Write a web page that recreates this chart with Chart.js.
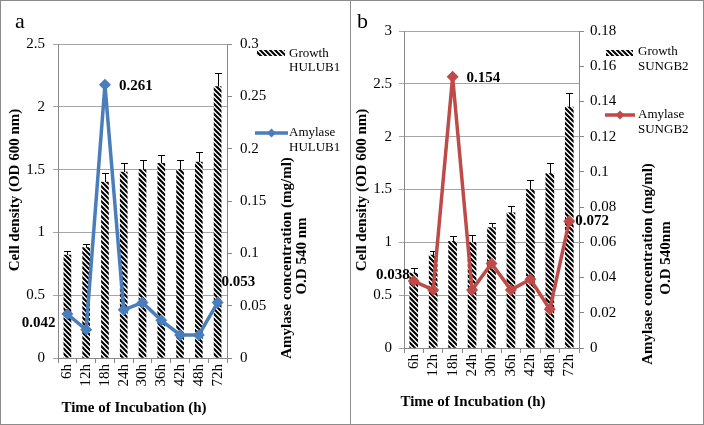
<!DOCTYPE html>
<html><head><meta charset="utf-8">
<script src="https://cdn.jsdelivr.net/npm/chart.js@4"></script>
<style>
html,body{margin:0;padding:0;background:#fff;}
#wrap{position:relative;width:704px;height:425px;overflow:hidden;background:#fff;}
.frame{position:absolute;top:0;height:425px;border:1px solid #8c8c8c;box-sizing:border-box;}
canvas{position:absolute;top:0;}
</style></head><body>
<div id="wrap">
  <div class="frame" style="left:0;width:351px"></div>
  <div class="frame" style="left:350px;width:354px"></div>
  <canvas id="ca" width="350" height="425" style="left:0"></canvas>
  <canvas id="cb" width="352" height="425" style="left:352px"></canvas>
</div>
<script>
// ---------- data ----------
const categories = ['6h','12h','18h','24h','30h','36h','42h','48h','72h'];

const growthA    = [0.82, 0.88, 1.40, 1.48, 1.50, 1.55, 1.50, 1.56, 2.16];
const growthErrA = [0.03, 0.03, 0.07, 0.07, 0.08, 0.07, 0.08, 0.08, 0.11];
const amylaseA   = [0.042, 0.027, 0.261, 0.046, 0.053, 0.036, 0.022, 0.022, 0.053];

const growthB    = [0.71, 0.88, 1.01, 1.00, 1.14, 1.28, 1.50, 1.65, 2.28];
const growthErrB = [0.05, 0.04, 0.05, 0.07, 0.04, 0.06, 0.09, 0.10, 0.13];
const amylaseB   = [0.038, 0.033, 0.154, 0.033, 0.048, 0.033, 0.039, 0.022, 0.072];

const leftTicksA  = [0, 0.5, 1, 1.5, 2, 2.5];
const rightTicksA = [0, 0.05, 0.1, 0.15, 0.2, 0.25, 0.3];
const leftTicksB  = [0, 0.5, 1, 1.5, 2, 2.5, 3];
const rightTicksB = [0, 0.02, 0.04, 0.06, 0.08, 0.1, 0.12, 0.14, 0.16, 0.18];

const labelledA = [2, 0, 8];
const labelledB = [2, 0, 8];

// ---------- helpers ----------
const SERIF = '"Liberation Serif", "Times New Roman", serif';
Chart.defaults.font.family = SERIF;
Chart.defaults.color = '#000';
function fmt(v){ return String(parseFloat(Number(v).toFixed(4))); }

function makeHatch(ctx){
  const n = 5;
  const c = document.createElement('canvas');
  c.width = n; c.height = n;
  const x = c.getContext('2d');
  x.fillStyle = '#fff'; x.fillRect(0,0,n,n);
  x.strokeStyle = '#000'; x.lineWidth = 2.1; x.lineCap = 'square';
  x.beginPath();
  x.moveTo(-1,-1); x.lineTo(n+1,n+1);
  x.moveTo(-1,n-1); x.lineTo(1,n+1);
  x.moveTo(n-1,-1); x.lineTo(n+1,1);
  x.stroke();
  return ctx.createPattern(c,'repeat');
}

function diamond(ctx, x, y, r, color){
  ctx.fillStyle = color;
  ctx.beginPath();
  ctx.moveTo(x, y-r); ctx.lineTo(x+r, y); ctx.lineTo(x, y+r); ctx.lineTo(x-r, y);
  ctx.closePath(); ctx.fill();
}

function makeChart(canvasId, cfg){
  const canvas = document.getElementById(canvasId);
  const ctx = canvas.getContext('2d');
  const hatch = makeHatch(ctx);

  const decor = {
    id: 'decor' + canvasId,
    afterDatasetDraw(chart, args){
      if (args.index !== 1) return;
      const meta = chart.getDatasetMeta(1);
      const ys = chart.scales.y;
      const c = chart.ctx;
      c.save();
      c.strokeStyle = '#000'; c.lineWidth = 1;
      meta.data.forEach((bar, i) => {
        const v = cfg.growth[i], e = cfg.err[i];
        const x = Math.round(bar.x) + 0.5;
        const y0 = ys.getPixelForValue(v), y1 = Math.round(ys.getPixelForValue(v + e)) + 0.5;
        c.beginPath();
        c.moveTo(x, y0); c.lineTo(x, y1);
        c.moveTo(x - 3.5, y1); c.lineTo(x + 3.5, y1);
        c.stroke();
      });
      c.restore();
    },
    afterDraw(chart){
      const c = chart.ctx;
      c.save();
      c.fillStyle = '#000';
      c.font = '22px ' + SERIF;
      c.textAlign = 'left'; c.textBaseline = 'alphabetic';
      c.fillText(cfg.letter, cfg.letterPos[0], cfg.letterPos[1]);
      c.font = 'bold 15px ' + SERIF;
      c.textAlign = 'center'; c.textBaseline = 'middle';
      c.fillText(cfg.xTitle, cfg.xTitlePos[0], cfg.xTitlePos[1]);
      c.save(); c.translate(cfg.yTitlePos[0], cfg.yTitlePos[1]); c.rotate(-Math.PI/2);
      c.fillText(cfg.yTitle, 0, 0); c.restore();
      cfg.y1Title.forEach((t, k) => {
        c.save(); c.translate(cfg.y1TitlePos[k][0], cfg.y1TitlePos[k][1]); c.rotate(-Math.PI/2);
        c.fillText(t, 0, 0); c.restore();
      });
      const L = cfg.legend;
      c.fillStyle = hatch;
      c.fillRect(L.swatch[0], L.swatch[1], L.swatch[2], L.swatch[3]);
      c.strokeStyle = cfg.color; c.lineWidth = 3.5;
      c.beginPath(); c.moveTo(L.line[0], L.line[2]); c.lineTo(L.line[1], L.line[2]); c.stroke();
      diamond(c, (L.line[0]+L.line[1])/2, L.line[2], 4.5, cfg.color);
      c.fillStyle = '#000';
      c.font = '13px ' + SERIF;
      c.textAlign = 'left'; c.textBaseline = 'middle';
      L.texts.forEach(t => c.fillText(t[0], t[1], t[2]));
      const meta = chart.getDatasetMeta(0);
      c.font = 'bold 15px ' + SERIF;
      cfg.labelled.forEach((i, k) => {
        const p = meta.data[i];
        const o = cfg.labelOffsets[k];
        c.textAlign = o[2];
        c.fillText(cfg.amylase[i].toFixed(3), p.x + o[0], p.y + o[1]);
      });
      c.restore();
    }
  };

  const tickFont = { family: SERIF, size: 15 };
  return new Chart(ctx, {
    type: 'bar',
    data: {
      labels: categories,
      datasets: [
        { type: 'line', label: cfg.lineLabel, data: cfg.amylase, yAxisID: 'y1',
          borderColor: cfg.color, backgroundColor: cfg.color, borderWidth: 3.5,
          pointStyle: 'rectRot', pointRadius: 6, pointBackgroundColor: cfg.color,
          pointBorderWidth: 0, tension: 0, order: 0 },
        { type: 'bar', label: cfg.barLabel, data: cfg.growth, yAxisID: 'y',
          backgroundColor: hatch, borderWidth: 0, barThickness: cfg.barW, order: 1 }
      ]
    },
    options: {
      responsive: false, animation: false, devicePixelRatio: 1,
      layout: { padding: { top: cfg.top, left: 0, right: 0, bottom: 0 } },
      plugins: { legend: { display: false }, tooltip: { enabled: false } },
      scales: {
        x: {
          grid: { offset: true, drawOnChartArea: false, tickLength: 5, color: '#888' },
          border: { color: '#888' },
          ticks: { autoSkip: false, maxRotation: 90, minRotation: 90, padding: 1, font: tickFont, color: '#000' },
          afterFit(s){ s.height = cfg.xH; }
        },
        y: {
          position: 'left', min: 0, max: cfg.leftTicks[cfg.leftTicks.length-1],
          afterBuildTicks(s){ s.ticks = cfg.leftTicks.map(v => ({ value: v })); },
          ticks: { callback: v => fmt(v), padding: cfg.lPad, font: tickFont, color: '#000' },
          grid: { color: '#a6a6a6', tickLength: 5 },
          border: { color: '#888' },
          afterFit(s){ s.width = cfg.left; }
        },
        y1: {
          position: 'right', min: 0, max: cfg.rightTicks[cfg.rightTicks.length-1],
          afterBuildTicks(s){ s.ticks = cfg.rightTicks.map(v => ({ value: v })); },
          ticks: { callback: v => fmt(v), padding: cfg.rPad, font: tickFont, color: '#000' },
          grid: { drawOnChartArea: false, tickLength: 5, color: '#888' },
          border: { color: '#888' },
          afterFit(s){ s.width = cfg.rightW; }
        }
      }
    },
    plugins: [decor]
  });
}

makeChart('ca', {
  growth: growthA, err: growthErrA, amylase: amylaseA,
  leftTicks: leftTicksA, rightTicks: rightTicksA, labelled: labelledA,
  color: '#4a7ebb', barLabel: 'Growth HULUB1', lineLabel: 'Amylase HULUB1',
  top: 44, left: 58, rightW: 123, xH: 67, barW: 7, lPad: 8, rPad: 8,
  letter: 'a', letterPos: [15, 28],
  xTitle: 'Time of Incubation (h)', xTitlePos: [134, 408],
  yTitle: 'Cell density (OD 600 nm)', yTitlePos: [15, 190],
  y1Title: ['Amylase concentration (mg/ml)', 'O.D 540 nm'], y1TitlePos: [[287, 258], [302, 256]],
  legend: { swatch: [257, 50, 28, 6], line: [255, 288, 133],
    texts: [['Growth', 289, 54], ['HULUB1', 289, 68], ['Amylase', 289, 133], ['HULUB1', 289, 148]] },
  labelOffsets: [[14, 1, 'left'], [-12, 9, 'right'], [4, -20, 'left']]
});

makeChart('cb', {
  growth: growthB, err: growthErrB, amylase: amylaseB,
  leftTicks: leftTicksB, rightTicks: rightTicksB, labelled: labelledB,
  color: '#be4b48', barLabel: 'Growth SUNGB2', lineLabel: 'Amylase SUNGB2',
  top: 31, left: 52, rightW: 125, xH: 77, barW: 8, lPad: 7, rPad: 6,
  letter: 'b', letterPos: [5, 28],
  xTitle: 'Time of Incubation (h)', xTitlePos: [121, 402],
  yTitle: 'Cell density (OD 600 nm)', yTitlePos: [10, 190],
  y1Title: ['Amylase concentration (mg/ml)', 'O.D 540nm'], y1TitlePos: [[296, 264], [314, 258]],
  legend: { swatch: [254, 50, 27, 6], line: [253, 283, 115],
    texts: [['Growth', 286, 52], ['SUNGB2', 286, 67], ['Amylase', 286, 115], ['SUNGB2', 286, 130]] },
  labelOffsets: [[14, 1, 'left'], [-4, -6, 'right'], [6, 0, 'left']]
});
</script>
</body></html>
